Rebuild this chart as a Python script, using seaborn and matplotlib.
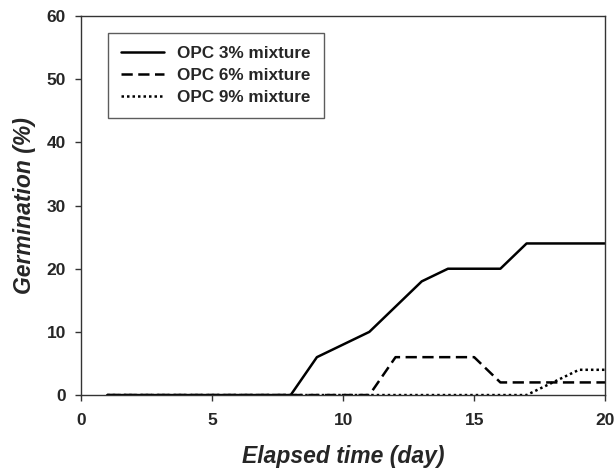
import matplotlib
matplotlib.use("Agg")
import matplotlib.pyplot as plt
import seaborn as sns
import pandas as pd

days = list(range(1, 21))
opc3 = [0, 0, 0, 0, 0, 0, 0, 0, 6, 8, 10, 14, 18, 20, 20, 20, 24, 24, 24, 24]
opc6 = [0, 0, 0, 0, 0, 0, 0, 0, 0, 0, 0, 6, 6, 6, 6, 2, 2, 2, 2, 2]
opc9 = [0, 0, 0, 0, 0, 0, 0, 0, 0, 0, 0, 0, 0, 0, 0, 0, 0, 2, 4, 4]
series_names = ["OPC 3% mixture", "OPC 6% mixture", "OPC 9% mixture"]
x_ticks = [0, 5, 10, 15, 20]
y_ticks = [0, 10, 20, 30, 40, 50, 60]

sns.set_theme(style="ticks")
plt.rcParams['font.family'] = ['Liberation Sans', 'DejaVu Sans']

frames = []
for name, vals in zip(series_names, [opc3, opc6, opc9]):
    frames.append(pd.DataFrame({"day": days, "germ": vals, "series": name}))
df = pd.concat(frames, ignore_index=True)

fig = plt.figure(figsize=(6.16, 4.72), dpi=100)
ax = fig.add_axes([0.1315, 0.163, 0.851, 0.803])

dash_map = {series_names[0]: "", series_names[1]: (4.5, 2.2), series_names[2]: (1, 1.2)}
palette = {n: "black" for n in series_names}
sns.lineplot(data=df, x="day", y="germ", hue="series", style="series",
             palette=palette, dashes=dash_map, linewidth=1.8, ax=ax,
             hue_order=series_names, style_order=series_names)

ax.set_xlim(0, 20)
ax.set_ylim(0, 60)
ax.set_xticks(x_ticks)
ax.set_yticks(y_ticks)
for lab in ax.get_xticklabels() + ax.get_yticklabels():
    lab.set_fontweight("bold")
    lab.set_fontsize(12.5)
ax.tick_params(axis="both", direction="out", length=4.3, width=1, color="#333333")
ax.tick_params(axis="y", pad=6.5)
ax.tick_params(axis="x", pad=8.5)
for sp in ax.spines.values():
    sp.set_visible(True)
    sp.set_color("#333333")
    sp.set_linewidth(1)

ax.set_xlabel("Elapsed time (day)", fontsize=16.5, fontweight="bold", fontstyle="italic", labelpad=12.5)
ax.set_ylabel("Germination (%)", fontsize=16.5, fontweight="bold", fontstyle="italic", labelpad=8)

leg = ax.legend(loc="upper left", bbox_to_anchor=(0.052, 0.955), frameon=True, fancybox=False,
                edgecolor="#333333", prop={"weight": "bold", "size": 12.3},
                handlelength=2.5, handletextpad=0.8, borderpad=0.75, labelspacing=0.42,
                borderaxespad=0)
leg.get_frame().set_linewidth(1)

fig.savefig("out.png", dpi=100)
